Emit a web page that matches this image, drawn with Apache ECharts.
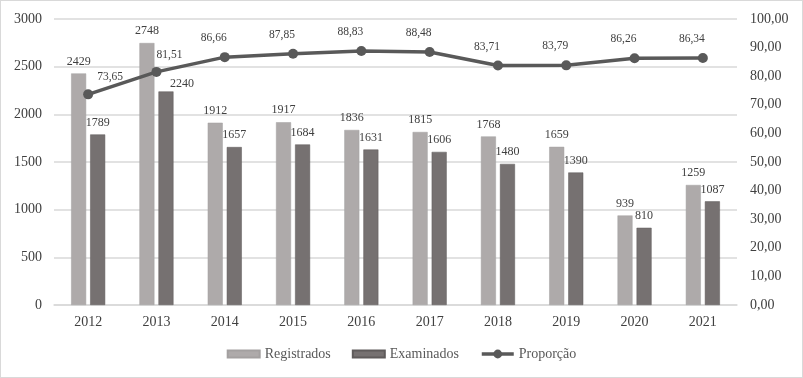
<!DOCTYPE html>
<html>
<head>
<meta charset="utf-8">
<script src="https://cdn.jsdelivr.net/npm/echarts@6/dist/echarts.min.js"></script>
<style>
html,body{margin:0;padding:0;background:#fff;}
#c{width:803px;height:378px;box-sizing:border-box;border:1px solid #d9d9d9;}
</style>
</head>
<body>
<div id="c"></div>
<script>
var categories = ['2012','2013','2014','2015','2016','2017','2018','2019','2020','2021'];
var registrados = [2429, 2748, 1912, 1917, 1836, 1815, 1768, 1659, 939, 1259];
var examinados = [1789, 2240, 1657, 1684, 1631, 1606, 1480, 1390, 810, 1087];
var proporcao = [73.65, 81.51, 86.66, 87.85, 88.83, 88.48, 83.71, 83.79, 86.26, 86.34];

var FONT = '"Liberation Serif", "Times New Roman", serif';
var TXT = '#404040';
function br(v){ return v.toFixed(2).replace('.', ','); }

var chart = echarts.init(document.getElementById('c'));

var examData = examinados.map(function(v, i){
  var d = {value: v};
  if (i === 1) d.label = {offset: [16, 4]};
  return d;
});
var propData = proporcao.map(function(v, i){
  var d = {value: v};
  if (i === 0) d.label = {offset: [22, 0]};
  else if (i === 1) d.label = {offset: [13, 0]};
  else d.label = {offset: [-11, -2]};
  return d;
});

var legendText = {fontFamily: FONT, fontSize: 14, color: '#595959'};
var rectIcon = 'path://M0,0h32v7h-32z';

chart.setOption({
  animation: false,
  backgroundColor: '#fff',
  textStyle: {fontFamily: FONT},
  grid: {left: 53, right: 65, top: 18, bottom: 72},
  legend: {
    bottom: 11,
    left: 'center',
    itemWidth: 32,
    itemHeight: 11,
    itemGap: 21,
    symbolKeepAspect: true,
    textStyle: legendText,
    data: [
      {name: 'Registrados', icon: rectIcon, textStyle: legendText},
      {name: 'Examinados', icon: rectIcon, textStyle: legendText},
      {name: 'Proporção', textStyle: legendText, lineStyle: {width: 3.5, color: '#595959'}, itemStyle: {color: '#595959'}}
    ]
  },
  xAxis: {
    type: 'category',
    data: categories,
    axisLine: {show: true, lineStyle: {color: '#d9d9d9', width: 1.5}},
    axisTick: {show: false},
    axisLabel: {fontFamily: FONT, fontSize: 14, color: TXT, margin: 10}
  },
  yAxis: [
    {
      type: 'value', min: 0, max: 3000, interval: 500,
      axisLine: {show: false}, axisTick: {show: false},
      splitLine: {lineStyle: {color: '#d9d9d9', width: 1.5}},
      axisLabel: {fontFamily: FONT, fontSize: 14, color: TXT, margin: 12, formatter: function(v){ return String(v); }}
    },
    {
      type: 'value', min: 0, max: 100, interval: 10,
      axisLine: {show: false}, axisTick: {show: false},
      splitLine: {show: false},
      axisLabel: {fontFamily: FONT, fontSize: 14, color: TXT, margin: 13, formatter: br}
    }
  ],
  series: [
    {
      name: 'Registrados', type: 'bar', data: registrados,
      barWidth: 15, barGap: '27%',
      itemStyle: {color: '#AEAAAA', borderColor: '#a3a0a0', borderWidth: 0.5},
      label: {show: true, position: 'top', distance: 6, fontFamily: FONT, fontSize: 12, color: TXT}
    },
    {
      name: 'Examinados', type: 'bar', data: examData,
      barWidth: 15,
      itemStyle: {color: '#767171', borderColor: '#5f5b5b', borderWidth: 0.5},
      label: {show: true, position: 'top', distance: 6, fontFamily: FONT, fontSize: 12, color: TXT}
    },
    {
      name: 'Proporção', type: 'line', yAxisIndex: 1, data: propData,
      symbol: 'circle', symbolSize: 10,
      lineStyle: {color: '#595959', width: 3.5},
      itemStyle: {color: '#595959'},
      label: {show: true, position: 'top', distance: 6, fontFamily: FONT, fontSize: 11.5, color: TXT, formatter: function(p){ return br(p.value); }},
      z: 5
    }
  ]
});
</script>
</body>
</html>
